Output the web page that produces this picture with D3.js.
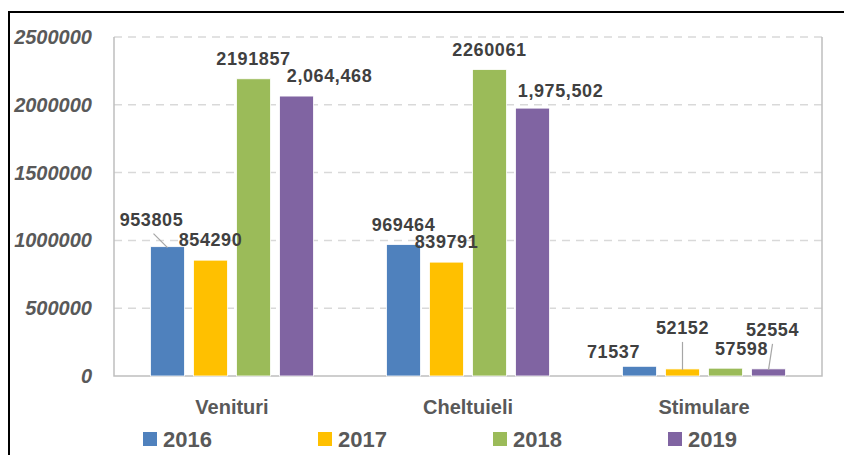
<!DOCTYPE html>
<html>
<head>
<meta charset="utf-8">
<script src="https://cdn.jsdelivr.net/npm/d3@7"></script>
<style>
  body { margin: 0; background: #fff; }
  svg { display: block; font-family: "Liberation Sans", Arial, sans-serif; }
</style>
</head>
<body>
<div id="container"></div>
<script>
let w = 844;
let h = 455;

// data
let categories = ["Venituri", "Cheltuieli", "Stimulare"];
let years = ["2016", "2017", "2018", "2019"];
let values2016 = [953805, 969464, 71537];
let values2017 = [854290, 839791, 52152];
let values2018 = [2191857, 2260061, 57598];
let values2019 = [2064468, 1975502, 52554];
let yTicks = [0, 500000, 1000000, 1500000, 2000000, 2500000];
// labels that Excel showed with thousand separators
let commaLabels = ["Venituri-2019", "Cheltuieli-2019"];

let colors = ["#4f81bd", "#ffc000", "#9bbb59", "#8064a2"];

// label nudges (dx, dy from bar top centre) and leader lines
let labelNudge = {
  "Venituri-2016": [-16, -27, true],
  "Venituri-2019": [33, -20],
  "Cheltuieli-2019": [28, -17],
  "Stimulare-2016": [-26, -15],
  "Stimulare-2017": [0, -41, true],
  "Stimulare-2018": [16, -19],
  "Stimulare-2019": [4, -39, true]
};

let seriesValues = [values2016, values2017, values2018, values2019];
let data = [];
categories.forEach(function(c, ci){
  years.forEach(function(y, yi){
    data.push({cat: c, year: y, value: seriesValues[yi][ci], color: colors[yi]});
  });
});

let viz = d3.select("#container")
  .append("svg")
    .attr("width", w)
    .attr("height", h)
;

// outer frame (left + top only visible)
viz.append("path")
  .attr("d", "M9,455 V12 H844")
  .attr("fill", "none")
  .attr("stroke", "#000")
  .attr("stroke-width", 2);

let plotLeft = 114, plotRight = 822, plotTop = 37, plotBottom = 376;

let x0 = d3.scaleBand().domain(categories).range([plotLeft, plotRight]);
let groupW = 163;
let x1 = d3.scaleBand().domain(years)
  .range([(x0.bandwidth() - groupW) / 2, (x0.bandwidth() + groupW) / 2])
  .paddingInner(0.21);
let yScale = d3.scaleLinear().domain([0, 2500000]).range([plotBottom, plotTop]);

// gridlines
viz.append("g").selectAll("line").data(yTicks.filter(d => d > 0)).enter()
  .append("line")
    .attr("x1", plotLeft)
    .attr("x2", plotRight)
    .attr("y1", d => yScale(d))
    .attr("y2", d => yScale(d))
    .attr("stroke", "#d9d9d9")
    .attr("stroke-width", 1.5)
    .attr("stroke-dasharray", "8,6");

// plot area border
viz.append("path")
  .attr("d", "M" + plotLeft + "," + plotTop + " V" + plotBottom + " H" + plotRight + " V" + plotTop)
  .attr("fill", "none")
  .attr("stroke", "#bfbfbf")
  .attr("stroke-width", 1.5);

// y axis labels
let yAxis = d3.axisLeft(yScale).tickValues(yTicks).tickSize(0).tickPadding(0).tickFormat(d3.format("d"));
let yAxisGroup = viz.append("g").attr("transform", "translate(92,0)").call(yAxis);
yAxisGroup.select(".domain").remove();
yAxisGroup.selectAll("text")
  .attr("fill", "#595959")
  .style("font-size", "20px")
  .style("font-style", "italic")
  .style("font-weight", "bold")
  .style("font-family", "'Liberation Sans', Arial, sans-serif");

// bars
let bars = viz.append("g").selectAll("rect").data(data).enter()
  .append("rect")
    .attr("x", d => x0(d.cat) + x1(d.year))
    .attr("width", x1.bandwidth())
    .attr("y", d => yScale(d.value))
    .attr("height", d => yScale(0) - yScale(d.value))
    .attr("fill", d => d.color)
    .attr("stroke", "#fff")
    .attr("stroke-width", 0.8);

// data labels
let labelGroup = viz.append("g");
data.forEach(function(d){
  let key = d.cat + "-" + d.year;
  let nudge = labelNudge[key] || [0, -20];
  let bx = x0(d.cat) + x1(d.year) + x1.bandwidth() / 2;
  let by = yScale(d.value);
  let lx = bx + nudge[0];
  let ly = by + nudge[1];
  let txt = commaLabels.indexOf(key) >= 0 ? d3.format(",")(d.value) : String(d.value);
  if (nudge[2]) {
    labelGroup.append("line")
      .attr("x1", nudge[0] < 0 ? lx + 2 : lx)
      .attr("y1", ly + 14)
      .attr("x2", bx)
      .attr("y2", by + 1)
      .attr("stroke", "#a6a6a6")
      .attr("stroke-width", 1.2);
  }
  labelGroup.append("text")
    .attr("x", lx)
    .attr("y", ly)
    .attr("dy", "0.35em")
    .attr("text-anchor", "middle")
    .attr("fill", "#404040")
    .style("font-size", "18px")
    .style("font-weight", "bold")
    .style("letter-spacing", "0.6px")
    .text(txt);
});

// x axis labels
let xAxis = d3.axisBottom(x0).tickSize(0).tickPadding(0);
let xAxisGroup = viz.append("g").attr("transform", "translate(0,400)").call(xAxis);
xAxisGroup.select(".domain").remove();
xAxisGroup.selectAll("text")
  .attr("fill", "#595959")
  .style("font-size", "20px")
  .style("font-weight", "bold")
  .style("font-family", "'Liberation Sans', Arial, sans-serif");

// legend
let legendX = d3.scalePoint().domain(years).range([143, 668]);
let legend = viz.append("g").selectAll("g").data(years).enter()
  .append("g")
    .attr("transform", d => "translate(" + legendX(d) + ",432)");
legend.append("rect")
  .attr("width", 14)
  .attr("height", 14)
  .attr("fill", (d, i) => colors[i]);
legend.append("text")
  .attr("x", 20)
  .attr("y", 7)
  .attr("dy", "0.36em")
  .attr("fill", "#595959")
  .style("font-size", "22px")
  .style("font-weight", "bold")
  .text(d => d);
</script>
</body>
</html>
